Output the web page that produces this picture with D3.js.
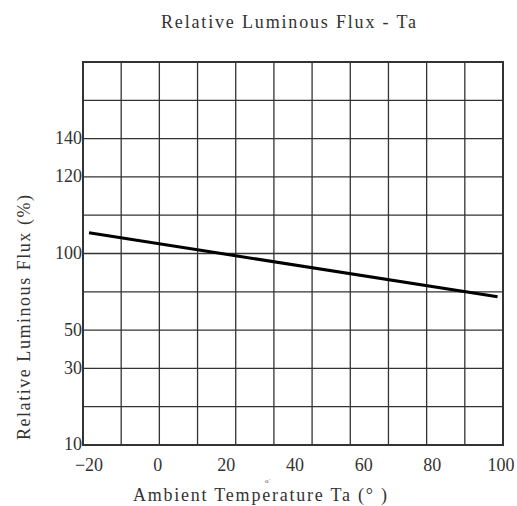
<!DOCTYPE html>
<html>
<head>
<meta charset="utf-8">
<script src="https://cdn.jsdelivr.net/npm/d3@7"></script>
<style>
  body { margin: 0; background: #fff; }
  svg { display: block; }
  .lbl { font-family: "Liberation Serif", serif; fill: #333; }
  .num { font-family: "Liberation Serif", serif; font-size: 18px; fill: #333; }
</style>
</head>
<body>
<svg id="chart" width="517" height="506"></svg>
<script>

// temperature ticks (deg C)
var xTicks = [-20, 0, 20, 40, 60, 80, 100];

// flux tick labels and the grid row each one sits on (axis is not linear)
var yTicks = [10, 30, 50, 100, 120, 140, 180],
    yTickRows = [0, 2, 3, 5, 7, 8, 10];

// the curve: temperature vs relative flux (%)
var temps = [-20, 99],
    flux = [105.4, 71.8];

var cols = 11, rows = 10;

var svg = d3.select("#chart");

var gLeft = 83, gRight = 503, gTop = 62, gBottom = 445;

var gx = d3.scaleLinear().domain([0, cols]).range([gLeft, gRight]),
    gy = d3.scaleLinear().domain([0, rows]).range([gBottom, gTop]);

var x = d3.scaleLinear().domain([-20, 100]).range([89, 501]);

// polylinear scale, one segment per labelled row span
var y = d3.scaleLinear()
    .domain(yTicks)
    .range(yTickRows.map(function(r) { return gy(r); }));

// grid
var grid = svg.append("g")
    .style("stroke", "#333")
    .style("stroke-width", 1.3);

grid.selectAll(".v")
    .data(d3.range(cols + 1))
  .enter().append("line")
    .attr("x1", function(d) { return gx(d); })
    .attr("x2", function(d) { return gx(d); })
    .attr("y1", gTop)
    .attr("y2", gBottom);

grid.selectAll(".h")
    .data(d3.range(rows + 1))
  .enter().append("line")
    .attr("x1", gLeft)
    .attr("x2", gRight)
    .attr("y1", function(d) { return gy(d); })
    .attr("y2", function(d) { return gy(d); });

svg.append("rect")
    .attr("x", gLeft)
    .attr("y", gTop)
    .attr("width", gRight - gLeft)
    .attr("height", gBottom - gTop)
    .style("fill", "none")
    .style("stroke", "#333")
    .style("stroke-width", 2);

// curve
svg.append("path")
    .datum(d3.zip(temps, flux))
    .attr("d", d3.line()
        .x(function(d) { return x(d[0]); })
        .y(function(d) { return y(d[1]); }))
    .style("fill", "none")
    .style("stroke", "#000")
    .style("stroke-width", 3);

// x tick labels
svg.selectAll(".xt")
    .data(xTicks)
  .enter().append("text")
    .attr("class", "num")
    .attr("x", function(d) { return x(d); })
    .attr("y", 471)
    .attr("text-anchor", "middle")
    .text(function(d) { return d < 0 ? "\u2212" + (-d) : d; });

// y tick labels (top value is unlabelled)
svg.selectAll(".yt")
    .data(yTicks.slice(0, -1))
  .enter().append("text")
    .attr("class", "num")
    .attr("x", gLeft - 1)
    .attr("y", function(d) { return y(d); })
    .attr("dy", "0.3em")
    .attr("text-anchor", "end")
    .text(function(d) { return d; });

// titles
svg.append("text")
    .attr("class", "lbl")
    .attr("x", 161)
    .attr("y", 28)
    .attr("font-size", 18)
    .attr("textLength", 255)
    .attr("lengthAdjust", "spacing")
    .text("Relative Luminous Flux - Ta");

svg.append("text")
    .attr("class", "lbl")
    .attr("x", 133)
    .attr("y", 501)
    .attr("font-size", 18)
    .attr("textLength", 254)
    .attr("lengthAdjust", "spacing")
    .text("Ambient Temperature Ta (\u00b0 )");

svg.append("text")
    .attr("class", "lbl")
    .attr("x", 268)
    .attr("y", 483)
    .attr("font-size", 7)
    .attr("text-anchor", "middle")
    .text("o\u02d9");

svg.append("text")
    .attr("class", "lbl")
    .attr("transform", "translate(30,440) rotate(-90)")
    .attr("font-size", 18)
    .attr("textLength", 245)
    .attr("lengthAdjust", "spacing")
    .text("Relative Luminous Flux (%)");

</script>
</body>
</html>
